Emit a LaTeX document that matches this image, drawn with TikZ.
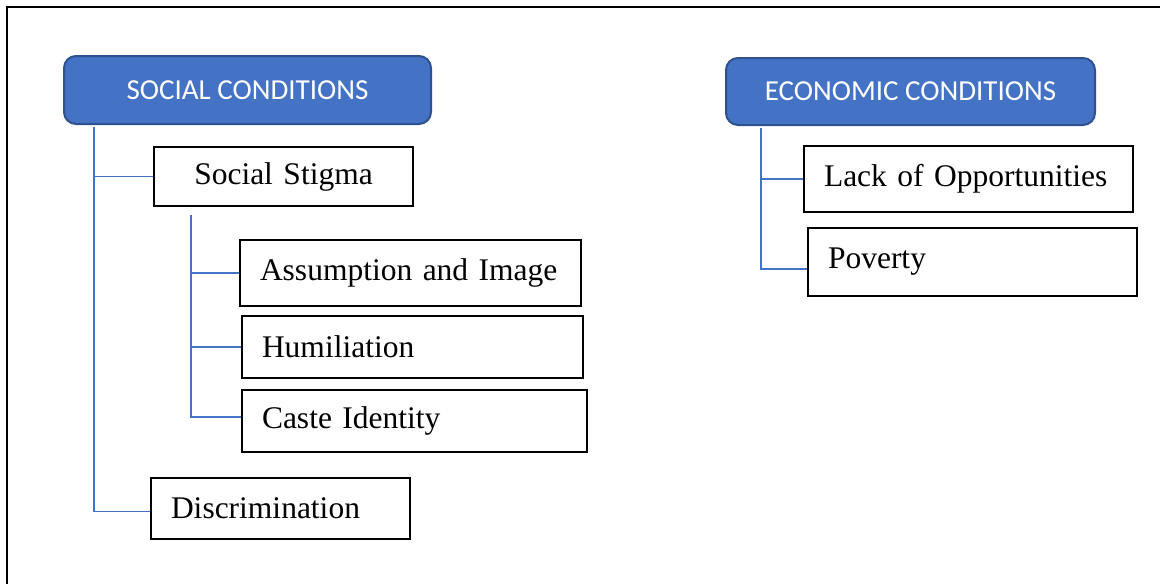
\documentclass[tikz,border=0pt]{standalone}
\usepackage{fontspec}
\setmainfont{Liberation Serif}
\newfontfamily\headfont{Carlito}
\usetikzlibrary{positioning}

\definecolor{headblue}{HTML}{4472C4}
\definecolor{headedge}{HTML}{2F528F}
\definecolor{linkblue}{HTML}{4472C4}

\begin{document}
\begin{tikzpicture}[x=1pt, y=-1pt,
    header/.style={draw=headedge, line width=2pt, fill=headblue, rounded corners=12pt,
        text=white, anchor=north west, inner sep=0pt,
        font=\headfont\fontsize{29}{34}\selectfont},
    item/.style={draw=black, line width=2pt, anchor=north west,
        inner xsep=20pt, inner ysep=0pt, align=left,
        font=\fontsize{31.5}{38}\selectfont},
    link/.style={draw=linkblue, line width=1.2pt}]

\useasboundingbox (0,0) rectangle (1160,584);

% Frame (only top and left edges show)
\draw[line width=2.5pt] (1160,7) -| (7,584);

% Left: social conditions
\node[header, minimum width=367pt, minimum height=68pt] (soc) at (63,55) {SOCIAL CONDITIONS};
\node[item, align=center, text width=219pt, minimum height=59pt] (stigma) at (153,146) {Social Stigma};
\node[item, text width=301pt, minimum height=66pt] (assume) at (239,239) {Assumption and Image};
\node[item, text width=301pt, minimum height=62pt] (humil) at (241,315) {Humiliation};
\node[item, text width=305pt, minimum height=62pt] (caste) at (241,389) {Caste Identity};
\node[item, text width=219pt, minimum height=61pt] (discr) at (150,477) {Discrimination};

% Right: economic conditions
\node[header, minimum width=369pt, minimum height=67pt] (eco) at (725,57) {ECONOMIC CONDITIONS};
\node[item, text width=289pt, minimum height=66pt] (lack) at (803,145) {Lack of Opportunities};
\node[item, text width=289pt, minimum height=68pt] (pov) at (807,227) {Poverty};

% Trunks
\coordinate (socTop) at ([xshift=31pt, yshift=-2pt]soc.south west);
\coordinate (stigTop) at ([xshift=38pt, yshift=-8pt]stigma.south west);
\coordinate (ecoTop) at ([xshift=36pt, yshift=-2pt]eco.south west);

% Branches
\draw[link] (socTop) |- ([yshift=-3pt]discr.west);
\draw[link] (socTop |- stigma.west) -- (stigma.west);

\draw[link] (stigTop) |- ([yshift=4pt]caste.west);
\draw[link] (stigTop |- assume.west) -- (assume.west);
\draw[link] (stigTop |- humil.west) -- (humil.west);

\draw[link] (ecoTop) |- ([yshift=-7pt]pov.west);
\draw[link] (ecoTop |- lack.west) -- (lack.west);

\end{tikzpicture}
\end{document}
